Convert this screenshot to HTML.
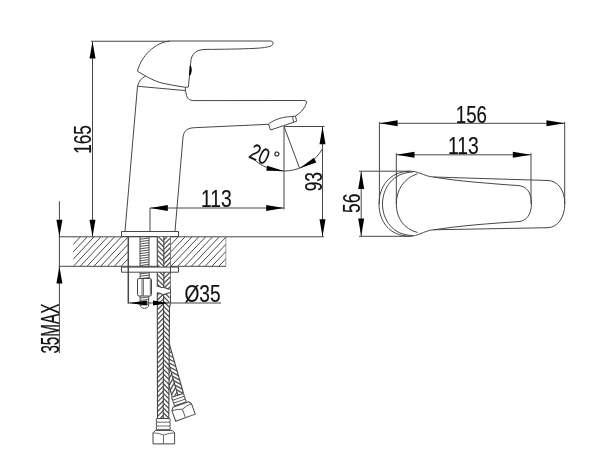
<!DOCTYPE html>
<html><head><meta charset="utf-8"><title>Faucet dimensions</title>
<style>
html,body{margin:0;padding:0;background:#fff;}
svg{display:block;filter:grayscale(1) blur(.4px)}
svg *{vector-effect:none}
.g line,.g path,.g polyline,.g rect,.g circle,.g ellipse{fill:none;stroke:#474747;stroke-width:1;stroke-linecap:butt;stroke-linejoin:round}
.g .f{fill:#000;stroke:none}
.g .w{fill:#fff}
.g .t{stroke-width:.8}
.g .r{stroke-width:1;stroke:#555}
.g .b{stroke-width:1.3;stroke:#555;stroke-linejoin:miter}
.g .e{stroke-width:1.1;stroke:#444}
.g .h{stroke-width:1;stroke:#4a4a4a}
text{font-family:"Liberation Sans",sans-serif;fill:#111;stroke:#111;stroke-width:.15;vector-effect:non-scaling-stroke}
</style></head><body>
<svg width="600" height="463" viewBox="0 0 600 463">
<rect x="0" y="0" width="600" height="463" fill="#fff"/>
<g class="g">
<line x1="91.00" y1="41.25" x2="170.00" y2="41.25" />
<line x1="92.50" y1="41.25" x2="92.50" y2="237.00" />
<polygon class="f" points="92.50,41.50 95.50,58.50 89.50,58.50"/>
<polygon class="f" points="92.50,236.80 89.50,219.80 95.50,219.80"/>
<text transform="translate(91.30,153.80) rotate(-90) scale(0.703,1)" font-size="24.5" text-anchor="start" >165</text>
<path d="M137.5,71.25 C141,56 155,42.5 170,41 L270,41 C273.6,41 274.2,43.6 271.3,45.7 C268.5,47.3 262,48 254,48.4 C240,49 225,49.3 205,49.4 C196,49.7 191,54 190.7,62.7 L188.4,87 L185.4,87.3 C178,86.2 170,84.8 163,83.3 C155,81.5 147,77 137.5,71.25 Z" />
<path d="M190.3,66.2 C191.6,68 191.4,73 189.7,75 Z" style="stroke-width:1.2;stroke:#000;fill:#000"/>
<path d="M137.5,86.25 L125,231.2" />
<path d="M137.5,86.25 C139,81 141.5,78 145,76.3" />
<path d="M137.5,86.25 L185.4,90.6" />
<path d="M185.4,87.3 L185.4,90.6 L186.3,94 C186.9,98.5 189,100.5 194,100.6 L303.5,100.5 C306,100.5 307,101.3 306.3,103.2 C305.5,105.5 305,106.5 304,108 C302.6,110.2 301,112 299,113.5 L295.5,116" />
<path d="M268.5,124.3 L194.5,127.7 C187.5,128 184,130.5 183,137 L175,231.2" />
<path d="M268.5,124 C272,121.2 278,118.3 285,117.2 C288,116.8 290,116.6 292.5,116.5 L293.6,122.3 L270.5,130 Z" />
<path d="M292.5,116.5 L295.5,116 L296.6,121.2 L293.6,122.3" />
<rect x="121.5" y="231.5" width="57" height="5"/>
<line x1="58.70" y1="236.80" x2="324.00" y2="236.80" />
<line x1="58.70" y1="266.30" x2="225.80" y2="266.30" />
<clipPath id="c1"><rect x="73.2" y="236.8" width="55" height="29.5"/><rect x="170.6" y="236.8" width="55.2" height="29.5"/></clipPath>
<path class="h" clip-path="url(#c1)" d="M39.30,266.3 L66.80,236.8 M46.12,266.3 L73.62,236.8 M52.94,266.3 L80.44,236.8 M59.76,266.3 L87.26,236.8 M66.58,266.3 L94.08,236.8 M73.40,266.3 L100.90,236.8 M80.22,266.3 L107.72,236.8 M87.04,266.3 L114.54,236.8 M93.86,266.3 L121.36,236.8 M100.68,266.3 L128.18,236.8 M107.50,266.3 L135.00,236.8 M114.32,266.3 L141.82,236.8 M121.14,266.3 L148.64,236.8 M127.96,266.3 L155.46,236.8 M134.78,266.3 L162.28,236.8 M136.55,266.3 L164.55,236.8 M143.40,266.3 L171.40,236.8 M150.25,266.3 L178.25,236.8 M157.10,266.3 L185.10,236.8 M163.95,266.3 L191.95,236.8 M170.80,266.3 L198.80,236.8 M177.65,266.3 L205.65,236.8 M184.50,266.3 L212.50,236.8 M191.35,266.3 L219.35,236.8 M198.20,266.3 L226.20,236.8 M205.05,266.3 L233.05,236.8 M211.90,266.3 L239.90,236.8 M218.75,266.3 L246.75,236.8 M225.60,266.3 L253.60,236.8 M232.45,266.3 L260.45,236.8"/>
<line x1="225.80" y1="236.80" x2="225.80" y2="266.30" class="t" style="stroke-width:.5"/>
<line x1="128.30" y1="236.80" x2="128.30" y2="303.50" style="stroke-width:1.5"/>
<line x1="170.50" y1="236.80" x2="170.50" y2="303.50" />
<line x1="140.00" y1="236.80" x2="140.00" y2="267.30" />
<line x1="149.00" y1="236.80" x2="149.00" y2="267.30" />
<path d="M140,239.20 L149,238.00 M140,241.60 L149,240.40 M140,244.00 L149,242.80 M140,246.40 L149,245.20 M140,248.80 L149,247.60 M140,251.20 L149,250.00 M140,253.60 L149,252.40 M140,256.00 L149,254.80 M140,258.40 L149,257.20 M140,260.80 L149,259.60 M140,263.20 L149,262.00 M140,265.60 L149,264.40 M140,268.00 L149,266.80" class="r"/>
<line x1="140.10" y1="272.20" x2="140.10" y2="278.20" />
<line x1="149.20" y1="272.20" x2="149.20" y2="278.20" />
<path d="M140.1,273.80 L149.2,272.80 M140.1,276.20 L149.2,275.20 M140.1,278.60 L149.2,277.60" class="r"/>
<rect x="137.5" y="278.5" width="14" height="17.5" rx="1.6"/>
<line x1="142.00" y1="278.40" x2="142.00" y2="295.80" class="t"/>
<line x1="143.40" y1="278.40" x2="143.40" y2="295.80" class="t"/>
<line x1="150.30" y1="279.50" x2="150.30" y2="294.80" class="t"/>
<path d="M140.1,296 L140.1,305 C140.5,309.5 148.3,309.5 148.7,305 L148.7,296" />
<path d="M140.1,298.00 L148.7,297.00 M140.1,300.40 L148.7,299.40 M140.1,302.80 L148.7,301.80 M140.1,305.20 L148.7,304.20" class="r"/>
<g transform="translate(164.5,348.6) rotate(-16)">
<clipPath id="c3"><rect x="-5.9" y="-8" width="11.8" height="56.4"/></clipPath>
<rect x="-5.9" y="-8" width="11.8" height="56.4" class="w" style="stroke:none"/>
<path d="M-5.90,-10.20 L0.00,-16.00 M0.00,-13.65 L5.90,-7.85 M-5.90,-5.50 L0.00,-11.30 M0.00,-8.95 L5.90,-3.15 M-5.90,-0.80 L0.00,-6.60 M0.00,-4.25 L5.90,1.55 M-5.90,3.90 L0.00,-1.90 M0.00,0.45 L5.90,6.25 M-5.90,8.60 L0.00,2.80 M0.00,5.15 L5.90,10.95 M-5.90,13.30 L0.00,7.50 M0.00,9.85 L5.90,15.65 M-5.90,18.00 L0.00,12.20 M0.00,14.55 L5.90,20.35 M-5.90,22.70 L0.00,16.90 M0.00,19.25 L5.90,25.05 M-5.90,27.40 L0.00,21.60 M0.00,23.95 L5.90,29.75 M-5.90,32.10 L0.00,26.30 M0.00,28.65 L5.90,34.45 M-5.90,36.80 L0.00,31.00 M0.00,33.35 L5.90,39.15 M-5.90,41.50 L0.00,35.70 M0.00,38.05 L5.90,43.85 M-5.90,46.20 L0.00,40.40 M0.00,42.75 L5.90,48.55 M-5.90,50.90 L0.00,45.10 M0.00,47.45 L5.90,53.25 M-5.90,55.60 L0.00,49.80 M0.00,52.15 L5.90,57.95" class="b" clip-path="url(#c3)"/>
<path d="M5.9,-6 L5.9,48.4 M-5.9,20 L-5.9,48.4 M0,-6 L0,48.4" class="e"/>
</g>
<g transform="translate(177.55,395.4) rotate(-18.6)">
<path d="M-5.9,0 L5.9,0 L6.4,1.5 L5.9,3 L6.4,4.5 L5.9,6 L6.4,7.5 L5.9,9 L-5.9,9 L-6.4,7.5 L-5.9,6 L-6.4,4.5 L-5.9,3 L-6.4,1.5 Z" class="w"/>
<path d="M-5.9,3 L5.9,3 M-5.9,6 L5.9,6" class="t"/>
</g>
<g transform="translate(181.6,406.95) rotate(-20)">
<path d="M-10.4,0.2 L-8.2,-2.6 L8.2,-2.6 L10.4,0.2 L10.4,11.4 L-10.4,11.4 Z" class="w"/>
<path d="M-10.4,0.2 Q-5,0.4 0,2.4 Q5,0.4 10.4,0.2" class="t"/>
<line x1="0.00" y1="2.40" x2="0.00" y2="11.40" class="t"/>
</g>
<clipPath id="c2a"><path d="M157.3,236.8 L170.3,236.8 L170.3,289 C167,289.5 166,287.2 163,287.5 C160,287.8 159.5,286 157.3,286.3 Z"/></clipPath>
<clipPath id="c2b"><path d="M157.3,292.7 C160,292.5 161,294.8 164,294.5 C167,294.2 167.5,292.6 170.2,292.8 L169.5,308 L168.8,418.5 L157.5,418.5 Z"/></clipPath>
<path d="M157.3,236.8 L170.3,236.8 L170.3,289 C167,289.5 166,287.2 163,287.5 C160,287.8 159.5,286 157.3,286.3 Z" class="w" style="stroke:none"/>
<path d="M157.3,292.7 C160,292.5 161,294.8 164,294.5 C167,294.2 167.5,292.6 170.2,292.8 L169.5,308 L168.8,418.5 L157.5,418.5 Z" class="w" style="stroke:none"/>
<path d="M157.30,226.00 L163.80,232.40 M163.80,234.83 L170.30,228.43 M157.30,230.85 L163.80,237.25 M163.80,239.68 L170.30,233.28 M157.30,235.70 L163.80,242.10 M163.80,244.53 L170.30,238.12 M157.30,240.55 L163.80,246.95 M163.80,249.38 L170.30,242.97 M157.30,245.40 L163.80,251.80 M163.80,254.22 L170.30,247.82 M157.30,250.25 L163.80,256.65 M163.80,259.07 L170.30,252.67 M157.30,255.10 L163.80,261.50 M163.80,263.92 L170.30,257.52 M157.30,259.95 L163.80,266.35 M163.80,268.77 L170.30,262.38 M157.30,264.80 L163.80,271.20 M163.80,273.62 L170.30,267.23 M157.30,269.65 L163.80,276.05 M163.80,278.48 L170.30,272.08 M157.30,274.50 L163.80,280.90 M163.80,283.33 L170.30,276.93 M157.30,279.35 L163.80,285.75 M163.80,288.18 L170.30,281.78 M157.30,284.20 L163.80,290.60 M163.80,293.03 L170.30,286.63 M157.30,289.05 L163.80,295.45 M163.80,297.88 L170.30,291.48" class="b" clip-path="url(#c2a)"/>
<path d="M157.30,290.50 L163.45,284.30 M163.45,286.73 L169.60,292.93 M157.30,295.35 L163.45,289.15 M163.45,291.58 L169.60,297.78 M157.30,300.20 L163.45,294.00 M163.45,296.43 L169.60,302.63 M157.30,305.05 L163.45,298.85 M163.45,301.28 L169.60,307.48 M157.30,309.90 L163.45,303.70 M163.45,306.13 L169.60,312.33 M157.30,314.75 L163.45,308.55 M163.45,310.98 L169.60,317.18 M157.30,319.60 L163.45,313.40 M163.45,315.83 L169.60,322.03 M157.30,324.45 L163.45,318.25 M163.45,320.68 L169.60,326.88 M157.30,329.30 L163.45,323.10 M163.45,325.53 L169.60,331.73 M157.30,334.15 L163.45,327.95 M163.45,330.38 L169.60,336.58 M157.30,339.00 L163.45,332.80 M163.45,335.23 L169.60,341.43 M157.30,343.85 L163.45,337.65 M163.45,340.08 L169.60,346.28 M157.30,348.70 L163.45,342.50 M163.45,344.93 L169.60,351.13 M157.30,353.55 L163.45,347.35 M163.45,349.78 L169.60,355.98 M157.30,358.40 L163.45,352.20 M163.45,354.63 L169.60,360.83 M157.30,363.25 L163.45,357.05 M163.45,359.48 L169.60,365.68 M157.30,368.10 L163.45,361.90 M163.45,364.33 L169.60,370.53 M157.30,372.95 L163.45,366.75 M163.45,369.18 L169.60,375.38 M157.30,377.80 L163.45,371.60 M163.45,374.03 L169.60,380.23 M157.30,382.65 L163.45,376.45 M163.45,378.88 L169.60,385.08 M157.30,387.50 L163.45,381.30 M163.45,383.73 L169.60,389.93 M157.30,392.35 L163.45,386.15 M163.45,388.58 L169.60,394.78 M157.30,397.20 L163.45,391.00 M163.45,393.43 L169.60,399.63 M157.30,402.05 L163.45,395.85 M163.45,398.28 L169.60,404.48 M157.30,406.90 L163.45,400.70 M163.45,403.13 L169.60,409.33 M157.30,411.75 L163.45,405.55 M163.45,407.98 L169.60,414.18 M157.30,416.60 L163.45,410.40 M163.45,412.83 L169.60,419.03 M157.30,421.45 L163.45,415.25 M163.45,417.68 L169.60,423.88" class="b" clip-path="url(#c2b)"/>
<path d="M157.3,236.8 L157.3,286.3 C159.5,286 160,287.8 163,287.5 C166,287.2 167,289.5 170.3,289" class="e"/>
<path d="M157.5,418.5 L157.3,292.7 C160,292.5 161,294.8 164,294.5 C167,294.2 167.5,292.6 170.2,292.8 M170.3,303.5 L169.5,308 L168.8,418.5" class="e"/>
<path d="M163.8,236.8 L163.8,287.5 M163.6,294.5 L163.2,418.5" class="e"/>
<rect x="121.5" y="267.1" width="57" height="5.1" class="w"/>
<line x1="128.30" y1="266.00" x2="128.30" y2="273.00" style="stroke-width:1.5"/>
<line x1="170.50" y1="266.00" x2="170.50" y2="273.00" />
<path d="M156.7,418.5 L169.8,418.5 L170.3,420.3 L169.7,422.2 L170.3,424.1 L169.7,426 L170.3,427.9 L169.8,429.6 L169.8,430.4 L156.7,430.4 L156.7,429.6 L156.2,427.9 L156.8,426 L156.2,424.1 L156.8,422.2 L156.2,420.3 Z" class="w"/>
<path d="M156.8,422.2 L169.7,422.2 M156.8,426 L169.7,426 M156.7,429.4 L169.8,429.4" class="t"/>
<path d="M153,432.8 L155.4,430.4 L172.2,430.4 L174.6,432.8 L174.6,443.9 L153,443.9 Z" class="w"/>
<path d="M153,432.8 Q158.4,433 163.5,435 Q169,433 174.6,432.8" class="t"/>
<line x1="163.50" y1="435.00" x2="163.50" y2="443.90" class="t"/>
<line x1="150.00" y1="208.00" x2="150.00" y2="231.20" />
<line x1="150.00" y1="208.00" x2="284.00" y2="208.00" />
<line x1="284.00" y1="126.50" x2="284.00" y2="209.50" />
<polygon class="f" points="150.30,208.00 167.80,205.00 167.80,211.00"/>
<polygon class="f" points="283.70,208.00 266.20,211.00 266.20,205.00"/>
<text transform="translate(201.00,207.00) rotate(0) scale(0.788,1)" font-size="24.5" text-anchor="start" >113</text>
<line x1="284.00" y1="126.50" x2="324.50" y2="126.50" />
<line x1="322.50" y1="126.50" x2="322.50" y2="236.80" />
<polygon class="f" points="322.50,126.80 325.50,144.30 319.50,144.30"/>
<polygon class="f" points="322.50,236.80 319.50,219.30 325.50,219.30"/>
<text transform="translate(321.70,191.30) rotate(-90) scale(0.71,1)" font-size="24.5" text-anchor="start" >93</text>
<line x1="284.30" y1="127.30" x2="299.60" y2="168.20" />
<path d="M250.93,156.28 A44.5,44.5 0 0 0 322.34,149.09" />
<polygon class="f" points="284.00,171.00 266.31,170.83 267.12,165.69"/>
<polygon class="f" points="299.58,168.18 313.94,157.85 316.33,162.47"/>
<text transform="translate(247.8,157.25) rotate(24)" font-size="22.5"><tspan textLength="19.3" lengthAdjust="spacingAndGlyphs">20</tspan><tspan dx="2.45" dy="-4.75" font-size="18">°</tspan></text>
<line x1="59.40" y1="201.20" x2="59.40" y2="353.00" />
<polygon class="f" points="59.40,236.80 56.40,219.80 62.40,219.80"/>
<polygon class="f" points="59.40,266.50 62.40,283.50 56.40,283.50"/>
<text transform="translate(59.00,353.60) rotate(-90) scale(0.605,1)" font-size="25.2" text-anchor="start" >35MAX</text>
<line x1="128.20" y1="303.00" x2="221.00" y2="303.00" />
<polygon class="f" points="128.80,303.00 146.80,300.50 146.80,305.50"/>
<polygon class="f" points="168.50,303.00 153.00,305.50 153.00,300.50"/>
<text transform="translate(184.40,301.60) rotate(0) scale(0.78,1)" font-size="24.5" text-anchor="start" >Ø35</text>
<line x1="379.40" y1="121.80" x2="379.40" y2="204.00" />
<line x1="564.70" y1="121.80" x2="564.70" y2="204.00" />
<line x1="379.40" y1="123.30" x2="564.70" y2="123.30" />
<polygon class="f" points="379.60,123.30 397.60,120.30 397.60,126.30"/>
<polygon class="f" points="564.50,123.30 546.50,126.30 546.50,120.30"/>
<text transform="translate(455.75,122.80) rotate(0) scale(0.762,1)" font-size="24.5" text-anchor="start" >156</text>
<line x1="396.30" y1="153.20" x2="396.30" y2="204.00" />
<line x1="531.00" y1="153.20" x2="531.00" y2="204.00" />
<line x1="396.30" y1="154.80" x2="531.00" y2="154.80" />
<polygon class="f" points="396.50,154.80 414.50,151.80 414.50,157.80"/>
<polygon class="f" points="530.80,154.80 512.80,157.80 512.80,151.80"/>
<text transform="translate(447.90,154.20) rotate(0) scale(0.788,1)" font-size="24.5" text-anchor="start" >113</text>
<line x1="361.20" y1="171.20" x2="361.20" y2="236.30" />
<line x1="359.00" y1="171.20" x2="410.00" y2="171.20" />
<line x1="359.00" y1="236.30" x2="410.00" y2="236.30" />
<polygon class="f" points="361.20,171.50 364.20,189.00 358.20,189.00"/>
<polygon class="f" points="361.20,236.00 358.20,218.50 364.20,218.50"/>
<text transform="translate(360.30,213.00) rotate(-90) scale(0.712,1)" font-size="24.5" text-anchor="start" >56</text>
<path d="M410,171.2 C389,171.5 379,187 379,204 C379,221 389,236 410,236.3" />
<path d="M413,172 C393,172.5 382.5,188 382.5,204 C382.5,220 393,235.5 413,235.5" />
<path d="M417.5,173.8 C404,178 396.3,190 396.3,204 C396.3,218 404,229 417.5,232.5" />
<path d="M410,171.2 C414,171.3 417,172 420,173.2 C425,175 428,176.6 433.3,177 L548,180.5 C558,181 564.8,190 564.8,203.8 C564.8,217 558,227.3 548,227.7 L433.3,229.8 C428,230.3 425,232 420,233.8 C417,235 414,236.2 410,236.3" />
<path d="M433.3,177 C447,179.3 460,180.8 473.3,182 C490,183.4 505,184.8 518,185.5 C526,186 531.5,192 531.5,203.6 C531.5,215 526,221.3 518,221.7 C505,222.4 490,223.6 473.3,225 C460,226.2 447,227.8 433.3,229.8" />
</g>
</svg>
</body></html>
